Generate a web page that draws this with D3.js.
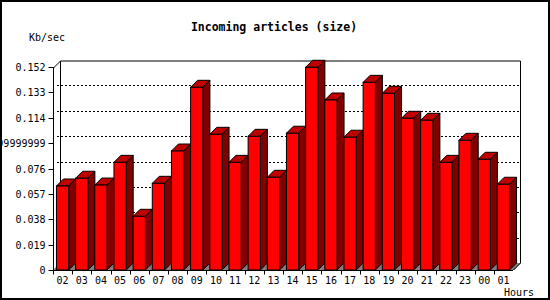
<!DOCTYPE html>
<html>
<head>
<meta charset="utf-8">
<script src="https://cdn.jsdelivr.net/npm/d3@7"></script>
<style>
body { margin:0; background:#fff; }
text { font-family: "DejaVu Sans Mono", monospace; }
</style>
</head>
<body>
<div id="figure"></div>
<script>
var hours = ["02","03","04","05","06","07","08","09","10","11","12","13",
             "14","15","16","17","18","19","20","21","22","23","00","01"];
var kbsec = [0.0629,0.0687,0.0636,0.0806,0.0402,0.0649,0.0891,0.1368,0.1016,0.0806,0.1001,0.0694,
             0.1024,0.1518,0.1273,0.0994,0.1405,0.1323,0.1136,0.1121,0.0806,0.0971,0.0829,0.0642];
var yTicks = [0,0.019,0.038,0.057,0.076,0.095,0.114,0.133,0.152];
var yTickLabels = ["0","0.019","0.038","0.057","0.076","0.09499999999999999","0.114","0.133","0.152"];

var w = 550, h = 300;
var depth = 7;
var pLeft = 53, pRight = 513, pTop = 67, pBottom = 270;

var svg = d3.select("#figure").append("svg")
	.attr("width", w).attr("height", h);

var x = d3.scaleBand().domain(hours).range([pLeft, pRight]);
var y = d3.scaleLinear().domain([0, 0.152]).range([pBottom, pTop]);

// image frame
svg.append("rect")
	.attr("x",1).attr("y",1).attr("width",w-2).attr("height",h-2)
	.attr("fill","#fff").attr("stroke","#000").attr("stroke-width",2);

// floor
svg.append("polygon")
	.attr("points", [[pLeft,pBottom],[pLeft+depth,pBottom-depth],[pRight+depth+1,pBottom-depth],[pRight+1,pBottom]].join(" "))
	.attr("fill","#808080");

// grid on back wall
svg.selectAll("line.grid")
	.data(yTicks.slice(1, -1))
	.enter()
	.append("line")
	.attr("class","grid")
	.attr("x1", pLeft+4).attr("x2", pRight+depth+1)
	.attr("y1", function(d) { return Math.round(y(d))-depth+0.5; })
	.attr("y2", function(d) { return Math.round(y(d))-depth+0.5; })
	.attr("stroke","#000").attr("stroke-dasharray","2,2");

// back wall outline
svg.append("path")
	.attr("d", "M"+(pLeft+0.5)+","+(pTop+1)+"L"+(pLeft+depth+0.5)+","+(pTop-depth+1)
		+"H"+(pRight+depth+0.5)+"V"+(pBottom-depth)+"L"+(pRight+0.5)+","+pBottom)
	.attr("fill","none").attr("stroke","#000");
svg.append("line")
	.attr("x1",pLeft+depth+0.5).attr("x2",pLeft+depth+0.5)
	.attr("y1",pTop-depth+1).attr("y2",pBottom-depth)
	.attr("stroke","#000");

// bars
var bw = x.bandwidth()*0.64, off = x.bandwidth()*0.18;
var bars = svg.selectAll("g.bar")
	.data(kbsec)
	.enter()
	.append("g")
	.attr("class","bar");

bars.append("polygon")
	.attr("points", function(d,i) {
		var x0 = x(hours[i])+off, x1 = x0+bw, yt = y(d);
		return [[x0,yt],[x0+depth,yt-depth],[x1+depth,yt-depth],[x1,yt]].join(" ");
	})
	.attr("fill","#c00000").attr("stroke","#000").attr("stroke-linejoin","round");

bars.append("polygon")
	.attr("points", function(d,i) {
		var x1 = x(hours[i])+off+bw, yt = y(d);
		return [[x1,yt],[x1+depth,yt-depth],[x1+depth,pBottom-depth],[x1,pBottom]].join(" ");
	})
	.attr("fill","#800000").attr("stroke","#000").attr("stroke-linejoin","round");

bars.append("rect")
	.attr("x", function(d,i) { return x(hours[i])+off; })
	.attr("y", function(d) { return y(d); })
	.attr("width", bw)
	.attr("height", function(d) { return pBottom - y(d); })
	.attr("fill","#ff0000").attr("stroke","#000");

// axes
var yAxis = svg.append("g").attr("transform","translate("+(pLeft+0.5)+",0)");
yAxis.append("line").attr("y1",pTop).attr("y2",pBottom).attr("stroke","#000");
yAxis.selectAll("line.tk")
	.data(yTicks)
	.enter()
	.append("line")
	.attr("class","tk")
	.attr("x1",-5).attr("x2",0)
	.attr("y1", function(d) { return Math.round(y(d))+0.5; })
	.attr("y2", function(d) { return Math.round(y(d))+0.5; })
	.attr("stroke","#000");
yAxis.selectAll("text")
	.data(yTicks)
	.enter()
	.append("text")
	.attr("x",-8)
	.attr("y", function(d) { return y(d)+4; })
	.attr("text-anchor","end")
	.attr("font-size","10px")
	.text(function(d,i) { return yTickLabels[i]; });

var xAxis = svg.append("g").attr("transform","translate(0,"+(pBottom+0.5)+")");
xAxis.append("line").attr("x1",pLeft).attr("x2",pRight).attr("stroke","#000");
xAxis.selectAll("line.tk")
	.data(hours)
	.enter()
	.append("line")
	.attr("class","tk")
	.attr("x1", function(d) { return Math.round(x(d))+0.5; })
	.attr("x2", function(d) { return Math.round(x(d))+0.5; })
	.attr("y1",0).attr("y2",4)
	.attr("stroke","#000");
xAxis.selectAll("text")
	.data(hours)
	.enter()
	.append("text")
	.attr("x", function(d) { return x(d)+x.bandwidth()/2; })
	.attr("y",13)
	.attr("text-anchor","middle")
	.attr("font-size","10px")
	.text(function(d) { return d; });

// labels
svg.append("text")
	.attr("x",274).attr("y",31)
	.attr("text-anchor","middle")
	.attr("font-size","11.5px").attr("font-weight","bold")
	.text("Incoming articles (size)");
svg.append("text")
	.attr("x",29).attr("y",41)
	.attr("font-size","10px")
	.text("Kb/sec");
svg.append("text")
	.attr("x",534).attr("y",296)
	.attr("text-anchor","end")
	.attr("font-size","10px")
	.text("Hours");
</script>
</body>
</html>
